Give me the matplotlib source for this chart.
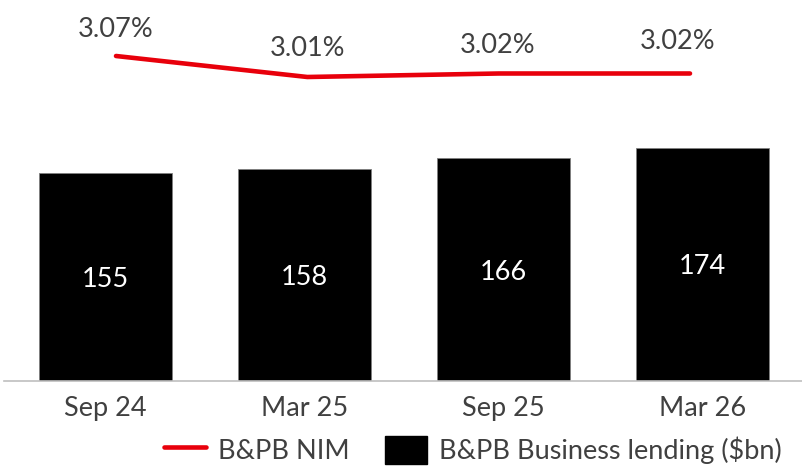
import matplotlib.pyplot as plt

# data
periods = ['Sep 24', 'Mar 25', 'Sep 25', 'Mar 26']
lending = [155, 158, 166, 174]          # B&PB Business lending ($bn)
nim = [3.07, 3.01, 3.02, 3.02]          # B&PB NIM (%)

plt.rcParams['font.family'] = ['Lato', 'DejaVu Sans']
TXT = '#404040'
RED = '#E8000B'
FS = 19.5

fig = plt.figure(figsize=(8.03, 4.74), dpi=100)
W, H = 803, 474

# bar axes: baseline at y=381 px, from x=4 to 803
ax = fig.add_axes([4 / W, (H - 381) / H, 799 / W, 381 / H])
x = range(len(periods))
bars = ax.bar(x, lending, width=0.668, color='black', edgecolor='#7f7f7f', linewidth=0.6, zorder=2)
ax.set_xlim(-0.51, 3.505)
ax.set_ylim(0, 284)
for b, v in zip(bars, lending):
    ax.text(b.get_x() + b.get_width() / 2, v / 2 - 2, str(v), color='white',
            ha='center', va='center', fontsize=FS)

ax.set_xticks(list(x))
ax.set_xticklabels(periods, fontsize=FS, color=TXT)
ax.tick_params(axis='x', length=0, pad=11)
ax.set_yticks([])
for s in ['top', 'right', 'left']:
    ax.spines[s].set_visible(False)
ax.spines['bottom'].set_color('#BFBFBF')
ax.spines['bottom'].set_linewidth(1.2)
ax.patch.set_visible(False)

# line axes (own category spacing, as in the source chart)
ax2 = fig.add_axes(ax.get_position())
ax2.set_xlim(-0.5854, 3.5906)
ax2.set_ylim(2.1414, 3.2300)
ax2.plot(list(x), nim, color=RED, linewidth=3.3, solid_capstyle='round', zorder=3)
label_offsets = [(0, 26), (0, 28), (-1, 28), (-12, 32)]
for i, v in enumerate(nim):
    ax2.annotate(f'{v:.2f}%', (i, v), xytext=label_offsets[i], textcoords='offset pixels',
                 ha='center', va='center', fontsize=FS, color=TXT)
ax2.axis('off')

# legend
h_line = plt.Line2D([], [], color=RED, linewidth=3.3, solid_capstyle='round')
h_bar = plt.Rectangle((0, 0), 1, 1, color='black')
fig.legend([h_line, h_bar], ['B&PB NIM', 'B&PB Business lending ($bn)'],
           loc='center', bbox_to_anchor=(473 / W, 1 - 450 / H), ncol=2, frameon=False,
           fontsize=FS, labelcolor=TXT, handlelength=1.55, handleheight=1.2,
           handletextpad=0.45, columnspacing=1.3, borderpad=0)

fig.savefig('out.png', dpi=100)
